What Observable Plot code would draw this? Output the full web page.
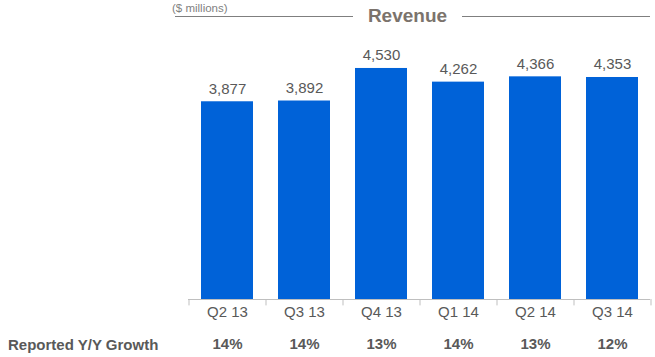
<!DOCTYPE html>
<html>
<head>
<meta charset="utf-8">
<script src="https://cdn.jsdelivr.net/npm/d3@7"></script>
<script src="https://cdn.jsdelivr.net/npm/@observablehq/plot@0.6"></script>
<style>
  html, body { margin: 0; padding: 0; background: #fff; }
  #wrap { position: relative; width: 655px; height: 357px; font-family: "Liberation Sans", Arial, sans-serif; overflow: hidden; }
  #wrap svg { position: absolute; left: 0; top: 0; }
  .abs { position: absolute; white-space: nowrap; }
</style>
</head>
<body>
<div id="wrap">
  <div class="abs" style="left:172px; top:2px; font-size:11.5px; color:#7f7f7f;">($ millions)</div>
  <div class="abs" style="left:175px; top:16px; width:178px; height:0; border-top:1.5px solid #7f7f7f;"></div>
  <div class="abs" style="left:462px; top:16px; width:188px; height:0; border-top:1.5px solid #7f7f7f;"></div>
  <div class="abs" style="left:353px; top:5px; width:109px; text-align:center; font-size:19px; font-weight:bold; color:#7b736c;">Revenue</div>
  <div class="abs" style="left:8px; top:336px; font-size:15px; font-weight:bold; color:#595959;">Reported Y/Y Growth</div>
</div>
<script>
const quarters = ["Q2 13", "Q3 13", "Q4 13", "Q1 14", "Q2 14", "Q3 14"];
const revenue = [3877, 3892, 4530, 4262, 4366, 4353];
const growth = ["14%", "14%", "13%", "14%", "13%", "12%"];

const data = quarters.map((q, i) => ({q, v: revenue[i], g: growth[i]}));
const step = (650 - 188) / quarters.length;

const chart = Plot.plot({
  width: 655,
  height: 357,
  marginLeft: 188,
  marginRight: 5,
  marginTop: 44,
  marginBottom: 58,
  style: {fontFamily: "Liberation Sans, Arial, sans-serif", background: "transparent"},
  x: {domain: quarters, paddingInner: 0.325, paddingOuter: 0.1625, axis: null},
  y: {domain: [0, 5000], axis: null},
  marks: [
    Plot.barY(data, {x: "q", y: "v", fill: "#0062d8"}),
    Plot.text(data, {x: "q", y: "v", text: d => d3.format(",")(d.v), dy: -13, fontSize: 15, fill: "#595959"}),
    Plot.ruleY([0], {stroke: "#bfbfbf", strokeWidth: 1}),
    Plot.ruleX(data, {x: "q", y1: 0, y2: -125, dx: -step / 2, stroke: "#bfbfbf"}),
    Plot.ruleX([data[data.length - 1]], {x: "q", y1: 0, y2: -125, dx: step / 2, stroke: "#bfbfbf"}),
    Plot.text(data, {x: "q", text: "q", frameAnchor: "bottom", dy: 17, fontSize: 15, fill: "#595959"}),
    Plot.text(data, {x: "q", text: "g", frameAnchor: "bottom", dy: 49, fontSize: 15, fontWeight: "bold", fill: "#595959"})
  ]
});
document.getElementById("wrap").prepend(chart);
</script>
</body>
</html>
